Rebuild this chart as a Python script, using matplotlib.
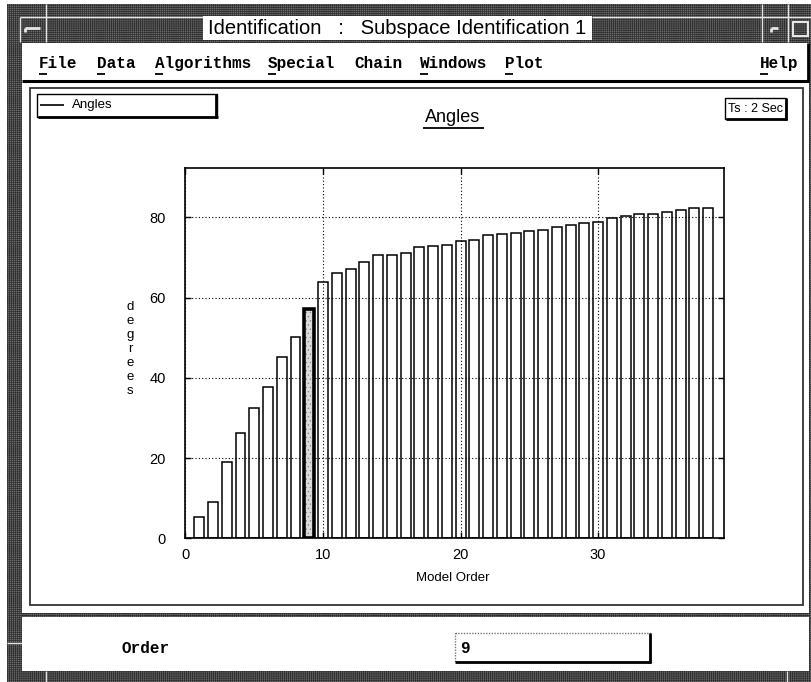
import matplotlib
matplotlib.use('Agg')
import matplotlib.pyplot as plt
from matplotlib.patches import Rectangle

# ---------------- data ----------------
model_order = list(range(1, 39))
angles = [5.4, 9.1, 18.9, 26.2, 32.4, 37.7, 45.2, 50.1, 57.2, 63.9,
          66.2, 67.0, 68.9, 70.5, 70.5, 71.1, 72.5, 72.8, 73.1, 74.1,
          74.4, 75.5, 75.9, 76.2, 76.6, 76.9, 77.6, 78.1, 78.5, 78.9,
          79.9, 80.4, 80.8, 80.8, 81.4, 81.8, 82.4, 82.4]
selected_order = 9
x_ticks = [0, 10, 20, 30]
y_ticks = [0, 20, 40, 60, 80]
menu_items = ['File', 'Data', 'Algorithms', 'Special', 'Chain', 'Windows', 'Plot']
menu_x = [39, 97, 155, 268, 354, 420, 505]
menu_underlined = [True, True, True, True, False, True, True]
window_title = 'Identification   :   Subspace Identification 1'
plot_title = 'Angles'
legend_label = 'Angles'
sample_text = 'Ts : 2 Sec'
x_label = 'Model Order'
y_label = 'degrees'
order_label = 'Order'
order_value = str(selected_order)

W, H = 812, 682
STIP = '#6e6e6e'
STIP_DARK = '#2e2e2e'
LIGHT = '#e6e6e6'
plt.rcParams['hatch.linewidth'] = 0.5

fig = plt.figure(figsize=(W / 100, H / 100), dpi=100)
fig.patch.set_facecolor('white')

bg = fig.add_axes([0, 0, 1, 1])
bg.set_xlim(0, W)
bg.set_ylim(H, 0)
bg.axis('off')


def rect(x0, y0, x1, y1, **kw):
    bg.add_patch(Rectangle((x0, y0), x1 - x0, y1 - y0, **kw))


def stipple(x0, y0, x1, y1):
    rect(x0, y0, x1, y1, facecolor=STIP, edgecolor=STIP_DARK, hatch='++++++++', lw=0)


def hline(y, x0, x1, **kw):
    bg.plot([x0, x1], [y, y], solid_capstyle='butt', **kw)


def vline(x, y0, y1, **kw):
    bg.plot([x, x], [y0, y1], solid_capstyle='butt', **kw)


# window frame
stipple(7, 4, W, H)
rect(22, 43, 809, 671, facecolor='white', lw=0)
# title label box
rect(203, 16, 592, 40, facecolor='white', lw=0)
bg.text(397.5, 28.5, window_title, ha='center', va='center', fontsize=14.5,
        family='Liberation Sans', color='black')
# bevel lines in title bar
hline(17, 20, 203, color=LIGHT, lw=1)
hline(17, 592, W, color=LIGHT, lw=1)
vline(20, 17, 42, color=LIGHT, lw=1)
vline(46, 4, 42, color=LIGHT, lw=1)
vline(762, 4, 42, color=LIGHT, lw=1)
vline(788, 4, 42, color=LIGHT, lw=1)
hline(28, 25, 40, color=LIGHT, lw=2)
vline(25, 28, 32, color=LIGHT, lw=2)
hline(28, 771, 778, color=LIGHT, lw=2)
vline(771, 28, 32, color=LIGHT, lw=2)
rect(793, 22, 808, 36, facecolor='none', edgecolor=LIGHT, lw=1.5)
# frame bevels
hline(643, 7, 22, color=LIGHT, lw=1)
vline(46, 671, H, color=LIGHT, lw=1)
vline(787, 671, H, color=LIGHT, lw=1)

# menu bar
for name, mx, ul in zip(menu_items, menu_x, menu_underlined):
    bg.text(mx, 68, name, ha='left', va='baseline', fontsize=11.5,
            family='Liberation Mono', fontweight='bold')
    if ul:
        hline(74, mx, mx + 8, color='black', lw=1.3)
bg.text(760, 68, 'Help', ha='left', va='baseline', fontsize=11.5,
        family='Liberation Mono', fontweight='bold')
hline(74, 760, 768, color='black', lw=1.3)
hline(81, 22, 809, color='black', lw=2.2)
vline(808, 43, 81, color='black', lw=2)

# plot panel box
rect(30, 88, 803, 605, facecolor='white', edgecolor='#333333', lw=1.3)

# legend box
rect(37, 94, 217, 117, facecolor='white', edgecolor='black', lw=1.0)
hline(116.5, 38, 218, color='black', lw=2)
vline(216.5, 94, 117.5, color='black', lw=2)
hline(104.5, 40, 64, color='black', lw=1.2)
bg.text(72, 105, legend_label, ha='left', va='center', fontsize=9.5,
        family='Liberation Sans')

# sampling time box
rect(725, 98, 786, 119, facecolor='white', edgecolor='black', lw=1.0)
hline(118.5, 726, 787, color='black', lw=2)
vline(786, 98, 119.5, color='black', lw=2)
bg.text(755.5, 108.5, sample_text, ha='center', va='center', fontsize=9,
        family='Liberation Sans')

# plot title
bg.text(453, 117, plot_title, ha='center', va='center', fontsize=13,
        family='Liberation Sans')
hline(128, 423, 484, color='black', lw=1.3)

# axis labels
bg.text(453, 578, x_label, ha='center', va='center', fontsize=9.5,
        family='Liberation Sans')
bg.text(130, 349, '\n'.join(y_label), ha='center', va='center', fontsize=9.5,
        family='Liberation Sans', linespacing=1.22)

# separator + bottom area
stipple(22, 613, W, 617)
bg.text(122, 653, order_label, ha='left', va='baseline', fontsize=11.5,
        family='Liberation Mono', fontweight='bold')
rect(455, 633, 650, 662, facecolor='white', edgecolor='#777777', lw=1.0,
     linestyle=(0, (1, 1)))
hline(661.5, 455, 651, color='black', lw=2)
vline(650, 633, 662.5, color='black', lw=2)
bg.text(460, 653, order_value, ha='left', va='baseline', fontsize=11.5,
        family='Liberation Mono', fontweight='bold')

# ---------------- plot axes ----------------
left_px, right_px, top_px, bottom_px = 185.5, 724, 168.3, 538.3
ax = fig.add_axes([left_px / W, 1 - bottom_px / H,
                   (right_px - left_px) / W, (bottom_px - top_px) / H])
ax.set_facecolor('white')

sel_idx = model_order.index(selected_order)
ax.bar(model_order, angles, width=0.72, color='white', edgecolor='black',
       linewidth=1.1, zorder=2)
# highlighted bar
ax.bar([model_order[sel_idx]], [angles[sel_idx]], width=0.72, color='#dcdcdc',
       edgecolor='#8a8a8a', hatch='....', linewidth=0, zorder=3)
ax.bar([model_order[sel_idx]], [angles[sel_idx]], width=0.72, color='none',
       edgecolor='black', linewidth=2.6, zorder=4)

ax.set_xlim(0, 39.15)
ax.set_ylim(0, 92.2)
ax.set_xticks(x_ticks)
ax.set_yticks(y_ticks)
ax.grid(True, color='black', linestyle=(0, (1, 2)), linewidth=0.8, zorder=5)
ax.set_axisbelow(False)
ax.tick_params(direction='in', length=4, width=1, top=True, right=True,
               labelsize=10.5)
ax.tick_params(axis='y', pad=14)
ax.tick_params(axis='x', pad=7)
for lab in ax.get_xticklabels() + ax.get_yticklabels():
    lab.set_family('Liberation Sans')
for sp in ax.spines.values():
    sp.set_linewidth(1.2)
    sp.set_zorder(6)

fig.savefig('out.png', dpi=100)
